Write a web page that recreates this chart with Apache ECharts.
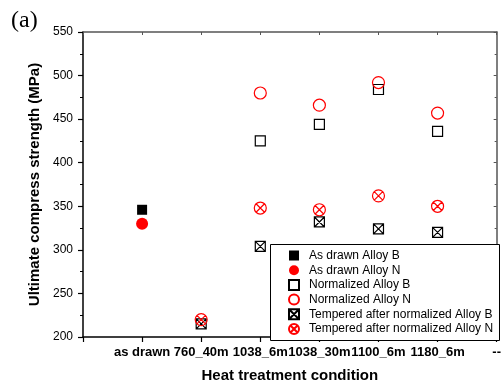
<!DOCTYPE html>
<html>
<head>
<meta charset="utf-8">
<script src="https://cdn.jsdelivr.net/npm/echarts@6/dist/echarts.min.js"></script>
<style>
html,body{margin:0;padding:0;background:#fff;}
#chart{width:504px;height:388px;}
</style>
</head>
<body>
<div id="chart"></div>
<script>
const categories = ['as drawn', '760_40m', '1038_6m', '1038_30m', '1100_6m', '1180_6m'];
const xTickLabels = ['', 'as drawn', '760_40m', '1038_6m', '1038_30m', '1100_6m', '1180_6m', '--'];
const yTicks = [200, 250, 300, 350, 400, 450, 500, 550];

const asDrawnB = [346, null, null, null, null, null];
const asDrawnN = [330, null, null, null, null, null];
const normalizedB = [null, null, 425, 444, 484, 436];
const normalizedN = [null, null, 480, 466, 492, 457];
const temperedB = [null, 215, 304, 332, 324, 320];
const temperedN = [null, 220, 348, 346, 362, 350];

const seriesNames = [
  'As drawn Alloy B',
  'As drawn Alloy N',
  'Normalized Alloy B',
  'Normalized Alloy N',
  'Tempered after normalized Alloy B',
  'Tempered after normalized Alloy N'
];

function toPoints(arr) {
  const out = [];
  arr.forEach((v, i) => { if (v !== null) out.push([i + 1, v]); });
  return out;
}

const crossSquare = 'path://M0,0L10,0L10,10L0,10Z M0,0L10,10 M10,0L0,10';
const crossCircle = 'path://M0,5A5,5,0,1,1,10,5A5,5,0,1,1,0,5Z M1.46,1.46L8.54,8.54 M8.54,1.46L1.46,8.54';
const clear = 'rgba(255,255,255,0)';

const chart = echarts.init(document.getElementById('chart'));
const font = 'Arial, "Liberation Sans", sans-serif';

chart.setOption({
  backgroundColor: '#fff',
  animation: false,
  textStyle: { fontFamily: font },
  grid: { left: 83, right: 4, top: 32, bottom: 46 },
  graphic: [
    {
      type: 'text', left: 11, top: 9,
      style: { text: '(a)', font: '24px "Liberation Serif", "Times New Roman", serif', fill: '#000' }
    },
    {
      type: 'rect', left: 270, top: 244, z: 50,
      shape: { width: 229, height: 96 },
      style: { fill: '#fff', stroke: '#000', lineWidth: 1 }
    }
  ],
  legend: {
    orient: 'vertical',
    left: 288,
    top: 249,
    z: 60,
    padding: 0,
    itemWidth: 10,
    itemHeight: 10,
    itemGap: 1.7,
    selectedMode: false,
    textStyle: { fontSize: 12, lineHeight: 13, color: '#000', fontFamily: font, padding: [0, 0, 0, 5] },
    data: seriesNames
  },
  xAxis: [
    {
      type: 'value', position: 'bottom', min: 0, max: 7, interval: 1,
      name: 'Heat treatment condition', nameLocation: 'middle', nameGap: 31,
      nameTextStyle: { fontSize: 15, fontWeight: 'bold', color: '#000', fontFamily: font },
      axisLine: { show: true, onZero: false, lineStyle: { color: '#000', width: 1.5 } },
      axisTick: { show: true, inside: false, length: 5, lineStyle: { color: '#000', width: 1.2 } },
      axisLabel: {
        margin: 9, fontSize: 13, fontWeight: 'bold', color: '#000', fontFamily: font,
        showMinLabel: true, showMaxLabel: true,
        formatter: v => xTickLabels[Math.round(v)] ?? ''
      },
      splitLine: { show: false }
    },
    {
      type: 'value', position: 'top', min: 0, max: 7, interval: 1,
      axisLine: { show: true, onZero: false, lineStyle: { color: '#555', width: 1.5 } },
      axisTick: { show: true, inside: true, length: 3, lineStyle: { color: '#555' } },
      axisLabel: { show: false },
      splitLine: { show: false }
    }
  ],
  yAxis: [
    {
      type: 'value', position: 'left', min: 200, max: 550, interval: 50,
      name: 'Ultimate compress strength (MPa)', nameLocation: 'middle', nameGap: 39,
      nameTextStyle: { fontSize: 15, fontWeight: 'bold', color: '#000', fontFamily: font },
      axisLine: { show: true, onZero: false, lineStyle: { color: '#000', width: 1.5 } },
      axisTick: { show: true, inside: false, length: 5, lineStyle: { color: '#000', width: 1.2 } },
      minorTick: { show: true, splitNumber: 2, length: 3, lineStyle: { color: '#000' } },
      axisLabel: {
        margin: 10, fontSize: 12, color: '#000', fontFamily: font,
        formatter: v => (yTicks.includes(v) ? String(v) : '')
      },
      splitLine: { show: false }
    },
    {
      type: 'value', position: 'right', min: 200, max: 550, interval: 50,
      axisLine: { show: true, onZero: false, lineStyle: { color: '#555', width: 1.5 } },
      axisTick: { show: true, inside: true, length: 3, lineStyle: { color: '#555' } },
      minorTick: { show: true, splitNumber: 2, length: 2, lineStyle: { color: '#555' } },
      axisLabel: { show: false },
      splitLine: { show: false }
    }
  ],
  series: [
    {
      name: seriesNames[0], type: 'scatter', data: toPoints(asDrawnB),
      symbol: 'rect', symbolSize: 10,
      itemStyle: { color: '#000', opacity: 1 }
    },
    {
      name: seriesNames[1], type: 'scatter', data: toPoints(asDrawnN),
      symbol: 'circle', symbolSize: 12,
      itemStyle: { color: '#ff0000', opacity: 1 }
    },
    {
      name: seriesNames[2], type: 'scatter', data: toPoints(normalizedB),
      symbol: 'rect', symbolSize: 10,
      itemStyle: { color: clear, borderColor: '#000', borderWidth: 1.2, opacity: 1 }
    },
    {
      name: seriesNames[3], type: 'scatter', data: toPoints(normalizedN),
      symbol: 'circle', symbolSize: 12,
      itemStyle: { color: clear, borderColor: '#ff0000', borderWidth: 1.2, opacity: 1 }
    },
    {
      name: seriesNames[4], type: 'scatter', data: toPoints(temperedB),
      symbol: crossSquare, symbolSize: 10,
      itemStyle: { color: clear, borderColor: '#000', borderWidth: 1.2, opacity: 1 }
    },
    {
      name: seriesNames[5], type: 'scatter', data: toPoints(temperedN),
      symbol: crossCircle, symbolSize: 12,
      itemStyle: { color: clear, borderColor: '#ff0000', borderWidth: 1.2, opacity: 1 }
    }
  ]
});
</script>
</body>
</html>
